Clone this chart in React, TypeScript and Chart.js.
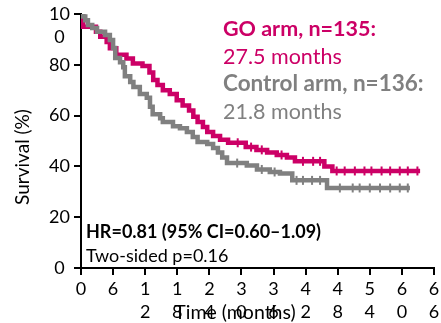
import { useEffect, useRef } from 'react';
import { Chart, registerables } from 'chart.js';

Chart.register(...registerables);

const FONT = 'Lato, "Open Sans", sans-serif';
const MAGENTA = '#CC0066';
const GREY = '#808080';

// Kaplan–Meier step points (months, survival %)
const goTimes = [0, 0.4, 2.8, 3.6, 4.8, 5.4, 6.6, 8.5, 9.7, 11.5, 12.8, 13.5, 14.3, 15.3, 16.6, 17.9, 19.0, 20.2, 21.0, 21.8, 22.8, 23.6, 24.7, 26.0, 27.5, 30.8, 32.8, 34.8, 36.6, 38.5, 40.0, 45.5, 47.0, 63.4];
const goSurvival = [100, 95, 93, 91, 89, 86.5, 84, 82.5, 80.5, 79.5, 77, 74, 72, 70, 68.5, 66, 64, 62, 59.5, 57.5, 55.5, 53.5, 52, 50.5, 49.3, 47.6, 46.5, 45.5, 44.5, 43.5, 42, 40, 38.2, 38.2];

const ctrlTimes = [0, 0.4, 0.8, 1.3, 2.1, 3.0, 4.5, 5.4, 6.0, 6.4, 7.3, 7.9, 8.2, 9.2, 9.8, 11.0, 12.3, 12.9, 13.4, 14.8, 15.3, 17.2, 18.5, 19.8, 20.9, 21.8, 23.6, 24.7, 25.6, 26.4, 27.3, 31.0, 32.9, 35.3, 37.2, 39.5, 46.0, 61.5];
const ctrlSurvival = [100, 99, 97.5, 95.7, 94.5, 93, 91.7, 89.8, 86.6, 82.7, 81, 79, 75.5, 73.2, 71.3, 68.5, 67, 63.5, 60.5, 59, 57.5, 55.8, 55, 53.5, 51.6, 49.6, 48.8, 47.2, 45.5, 43.5, 41.3, 40.4, 38.8, 37.8, 37.2, 34.5, 31.5, 31.5];

// Censor marks (months, survival %)
const goCensorTimes = [29.3, 31.8, 33.8, 37.5, 41.5, 43.4, 44.7, 47.8, 49.3, 51.2, 53.0, 54.3, 56.2, 57.8, 59.6, 61.1, 62.9];
const goCensorSurvival = [49.3, 47.6, 46.5, 44.5, 42, 42, 42, 38.2, 38.2, 38.2, 38.2, 38.2, 38.2, 38.2, 38.2, 38.2, 38.2];
const ctrlCensorTimes = [29.2, 33.8, 36.2, 40.3, 41.5, 43.2, 44.7, 48.4, 50.8, 52.1, 54.0, 55.9, 57.8, 59.6, 61.1];
const ctrlCensorSurvival = [41.3, 38.8, 37.8, 34.5, 34.5, 34.5, 34.5, 31.5, 31.5, 31.5, 31.5, 31.5, 31.5, 31.5, 31.5];

// Axis ticks (labels wrap as in the original)
const xTickValues = [0, 6, 12, 18, 24, 30, 36, 42, 48, 54, 60, 66];
const xTickLabels: (string | string[])[] = ['0', '6', ['1', '2'], ['1', '8'], ['2', '4'], ['3', '0'], ['3', '6'], ['4', '2'], ['4', '8'], ['5', '4'], ['6', '0'], ['6', '6']];
const yTickValues = [0, 20, 40, 60, 80, 100];
const yTickLabels: (string | string[])[] = ['0', '20', '40', '60', '80', ['', '10', '0']];

const xTitle = 'Time (months)';
const yTitle = 'Survival (%)';
const goLabel = 'GO arm, n=135:';
const goMedian = '27.5 months';
const ctrlLabel = 'Control arm, n=136:';
const ctrlMedian = '21.8 months';
const hrText = 'HR=0.81 (95% CI=0.60\u20131.09)';
const pText = 'Two-sided p=0.16';

const TICK_LEN = 7;

const pts = (xs: number[], ys: number[]) => xs.map((x, i) => ({ x, y: ys[i] }));

const tickMarkPlugin = {
  id: 'tickMarks',
  afterDraw(chart: any) {
    const { ctx, chartArea, scales } = chart;
    ctx.save();
    ctx.strokeStyle = '#000000';
    ctx.lineWidth = 2;
    ctx.beginPath();
    xTickValues.forEach((v) => {
      const px = Math.round(scales.x.getPixelForValue(v));
      ctx.moveTo(px, chartArea.bottom);
      ctx.lineTo(px, chartArea.bottom + TICK_LEN);
    });
    yTickValues.forEach((v) => {
      const py = Math.round(scales.y.getPixelForValue(v));
      ctx.moveTo(chartArea.left - TICK_LEN, py);
      ctx.lineTo(chartArea.left, py);
    });
    ctx.stroke();
    ctx.restore();
  },
};

const textPlugin = {
  id: 'annotations',
  afterDraw(chart: any) {
    const { ctx } = chart;
    ctx.save();
    ctx.textBaseline = 'middle';
    ctx.textAlign = 'left';
    const put = (t: string, x: number, y: number, color: string, weight: string, size: number) => {
      ctx.fillStyle = color;
      ctx.font = `${weight} ${size}px ${FONT}`;
      ctx.fillText(t, x, y);
    };
    put(goLabel, 223, 29, MAGENTA, 'bold', 21.5);
    put(goMedian, 223, 57, MAGENTA, 'normal', 21.5);
    put(ctrlLabel, 223, 84, GREY, 'bold', 22.5);
    put(ctrlMedian, 223, 112, GREY, 'normal', 21.5);
    put(hrText, 86, 232, '#000000', 'bold', 18);
    put(pText, 86, 256, '#000000', 'normal', 18);
    // axis titles
    ctx.textAlign = 'center';
    put(xTitle, 235, 313, '#000000', 'normal', 19.5);
    ctx.translate(23, 157);
    ctx.rotate(-Math.PI / 2);
    ctx.textAlign = 'center';
    put(yTitle, 0, 0, '#000000', 'normal', 19);
    ctx.restore();
  },
};

const makeGrid = () => ({
  display: true,
  drawOnChartArea: false,
  drawTicks: true,
  tickLength: TICK_LEN,
  color: '#000000',
  lineWidth: 2,
  tickColor: '#000000',
  tickWidth: 2,
});

export default function App() {
  const ref = useRef<HTMLCanvasElement | null>(null);
  useEffect(() => {
    if (!ref.current) return;
    const chart = new Chart(ref.current, {
      type: 'line',
      data: {
        datasets: [
          {
            data: pts(ctrlTimes, ctrlSurvival),
            borderColor: GREY,
            borderWidth: 4.5,
            pointRadius: 0,
            stepped: true,
            fill: false,
          },
          {
            data: pts(goTimes, goSurvival),
            borderColor: MAGENTA,
            borderWidth: 4.5,
            pointRadius: 0,
            stepped: true,
            fill: false,
          },
          {
            data: pts(ctrlCensorTimes, ctrlCensorSurvival),
            showLine: false,
            pointStyle: 'line',
            pointRotation: 90,
            pointRadius: 4.5,
            pointBorderWidth: 2,
            pointBorderColor: GREY,
            pointBackgroundColor: GREY,
          },
          {
            data: pts(goCensorTimes, goCensorSurvival),
            showLine: false,
            pointStyle: 'line',
            pointRotation: 90,
            pointRadius: 4.5,
            pointBorderWidth: 2,
            pointBorderColor: MAGENTA,
            pointBackgroundColor: MAGENTA,
          },
        ] as any,
      },
      options: {
        animation: false,
        responsive: false,
        devicePixelRatio: 1,
        layout: { padding: { top: 14, right: 7, bottom: 0, left: 0 } },
        plugins: { legend: { display: false }, tooltip: { enabled: false } },
        events: [],
        scales: {
          x: {
            type: 'linear',
            min: 0,
            max: 66,
            afterBuildTicks: (scale: any) => {
              scale.ticks = xTickValues.map((v) => ({ value: v }));
            },
            ticks: {
              autoSkip: false,
              maxRotation: 0,
              minRotation: 0,
              padding: 3,
              color: '#000000',
              font: { family: FONT, size: 18, lineHeight: 1.28 },
              callback: (v: any) => xTickLabels[xTickValues.indexOf(Number(v))],
            },
            grid: makeGrid(),
            border: { display: true, color: '#000000', width: 2 },
            afterFit: (scale: any) => {
              scale.height = 55;
              scale.paddingLeft = 0;
              scale.paddingRight = 0;
            },
          },
          y: {
            type: 'linear',
            min: 0,
            max: 100,
            afterBuildTicks: (scale: any) => {
              scale.ticks = yTickValues.map((v) => ({ value: v }));
            },
            ticks: {
              autoSkip: false,
              padding: 4,
              crossAlign: 'center',
              color: '#000000',
              font: { family: FONT, size: 18, lineHeight: 1.28 },
              callback: (v: any) => yTickLabels[yTickValues.indexOf(Number(v))],
            },
            grid: makeGrid(),
            border: { display: true, color: '#000000', width: 2 },
            afterFit: (scale: any) => {
              scale.width = 81;
              scale.paddingTop = 0;
              scale.paddingBottom = 0;
            },
          },
        },
      } as any,
      plugins: [tickMarkPlugin, textPlugin],
    });
    return () => chart.destroy();
  }, []);
  return (
    <div style={{ position: 'absolute', left: 0, top: 0, width: 441, height: 323, background: '#fff' }}>
      <canvas ref={ref} width={441} height={323} style={{ display: 'block' }} />
    </div>
  );
}
